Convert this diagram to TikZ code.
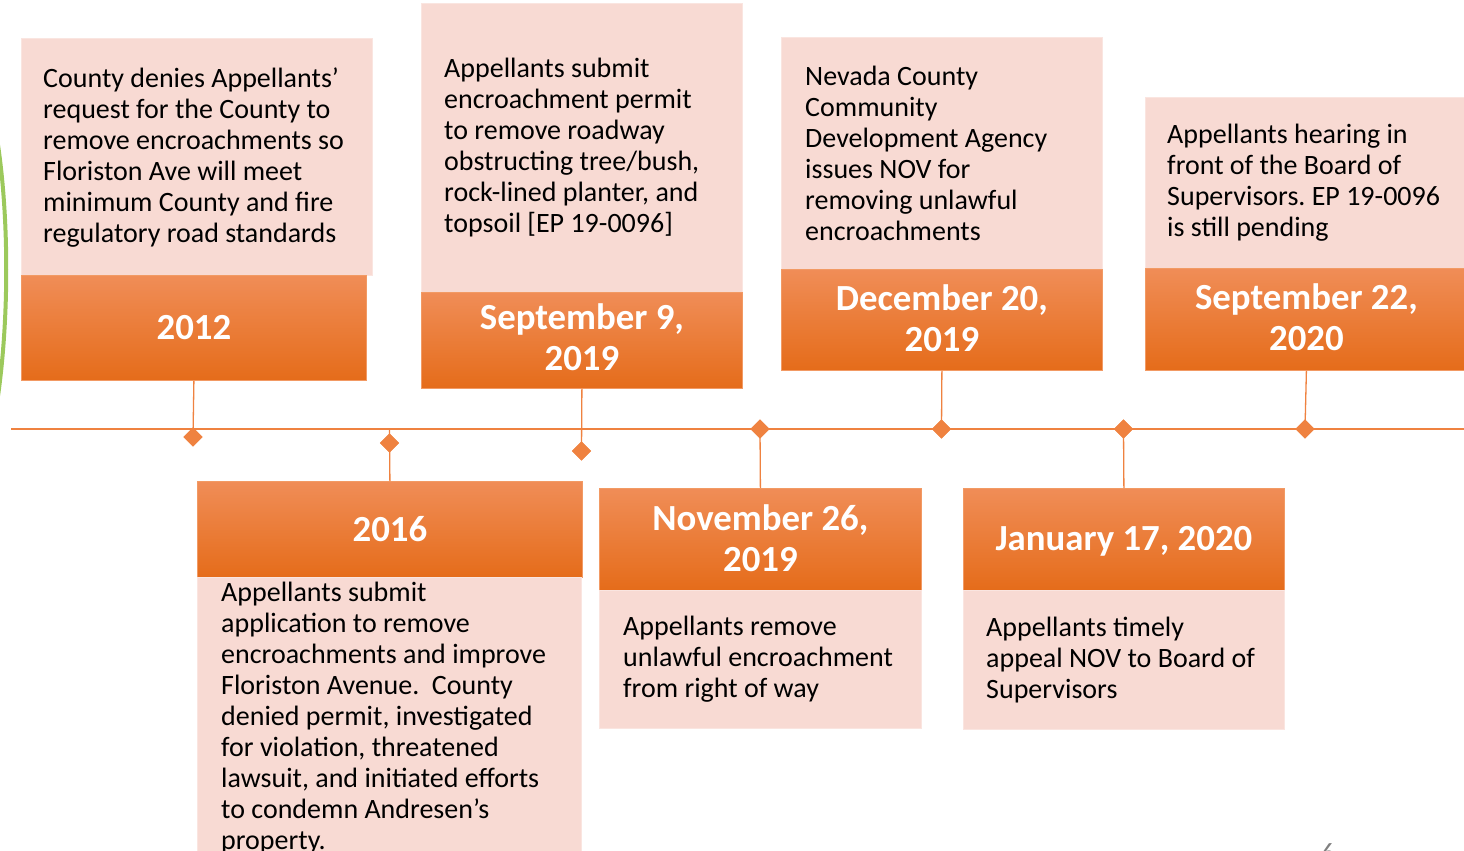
\documentclass[tikz,border=0pt]{standalone}
\usepackage{fontspec}
\setmainfont{Carlito}
\frenchspacing
\usetikzlibrary{shapes.geometric}
\definecolor{notepink}{HTML}{F8DAD3}
\definecolor{datetop}{HTML}{F08D57}
\definecolor{datemid}{HTML}{F47D2B}
\definecolor{datebot}{HTML}{E56C1A}
\definecolor{dateedge}{HTML}{F29A64}
\definecolor{tlorange}{HTML}{EF8240}
\definecolor{arcgreen}{HTML}{9CC95C}
\definecolor{pagegray}{HTML}{808080}
\tikzset{
  notebox/.style={fill=notepink, draw=notepink!70!white, line width=0.6pt,
    anchor=north west, inner sep=0pt},
  notetext/.style={inner sep=0pt, align=left,
    font=\fontsize{28}{31}\selectfont, text=black},
  datebox/.style={shading=axis, top color=datetop, middle color=datemid,
    bottom color=datebot, draw=dateedge, line width=0.8pt,
    anchor=north west, inner sep=0pt},
  datetext/.style={inner sep=0pt, align=center,
    font=\fontsize{36.8}{41}\selectfont\bfseries, text=white},
  knot/.style={diamond, fill=tlorange, inner sep=0pt, minimum size=19pt},
  stem/.style={draw=tlorange, line width=1.3pt},
  axisline/.style={draw=tlorange, line width=1.3pt},
}
\begin{document}
\begin{tikzpicture}[x=1pt, y=-1pt]
\useasboundingbox (0,0) rectangle (1464,851);
\begin{scope}
\clip (0,0) rectangle (1464,851);

% green outline arc on the far left
\draw[arcgreen, line width=4pt] (-2,145) .. controls (9,220) and (9,318) .. (-2,396);

% main time axis
\coordinate (axisL) at (11,429);
\coordinate (axisR) at (1464,429);
\draw[axisline] (axisL) -- (axisR);

% ---- events above the axis ----
\node[notebox, minimum width=351pt, minimum height=237pt] (p2012) at (21,38) {};
\node[notetext, anchor=west] (n2012) at ([xshift=22pt,yshift=-1pt]p2012.west)
  {County denies Appellants’\\ request for the County to\\ remove encroachments so\\ Floriston Ave will meet\\ minimum County and fire\\ regulatory road standards};
\node[datebox, minimum width=345pt, minimum height=105pt] (d2012) at (21,275) {};
\node[datetext] (t2012) at (d2012.center) {2012};

\node[notebox, minimum width=321pt, minimum height=289pt] (p0919) at (421,3) {};
\node[notetext, anchor=west] (n0919) at ([xshift=23pt]p0919.west)
  {Appellants submit\\ encroachment permit\\ to remove roadway\\ obstructing tree/bush,\\ rock-lined planter, and\\ topsoil [EP 19-0096]};
\node[datebox, minimum width=321pt, minimum height=96pt] (d0919) at (421,292) {};
\node[datetext] (t0919) at ([yshift=3pt]d0919.center) {September 9,\\ 2019};

\node[notebox, minimum width=321pt, minimum height=232pt] (p1220) at (781,37) {};
\node[notetext, anchor=west] (n1220) at ([xshift=24pt]p1220.west)
  {Nevada County\\ Community\\ Development Agency\\ issues NOV for\\ removing unlawful\\ encroachments};
\node[datebox, minimum width=321pt, minimum height=101pt] (d1220) at (781,269) {};
\node[datetext] (t1220) at ([yshift=2pt]d1220.center) {December 20,\\ 2019};

\node[notebox, minimum width=322pt, minimum height=171pt] (p0922) at (1145,97) {};
\node[notetext, anchor=west] (n0922) at ([xshift=22pt]p0922.west)
  {Appellants hearing in\\ front of the Board of\\ Supervisors. EP 19-0096\\ is still pending};
\node[datebox, minimum width=322pt, minimum height=102pt] (d0922) at (1145,268) {};
\node[datetext] (t0922) at ([yshift=2pt]d0922.center) {September 22,\\ 2020};

% ---- events below the axis ----
\node[datebox, minimum width=385pt, minimum height=96pt] (d2016) at (197,481) {};
\node[datetext] (t2016) at (d2016.center) {2016};
\node[notebox, minimum width=384pt, minimum height=290pt] (p2016) at (197,577) {};
\node[notetext, anchor=north west] (n2016) at ([xshift=24pt,yshift=-5pt]p2016.north west)
  {Appellants submit\\ application to remove\\ encroachments and improve\\ Floriston Avenue.\ \ County\\ denied permit, investigated\\ for violation, threatened\\ lawsuit, and initiated efforts\\ to condemn Andresen’s\\ property.};

\node[datebox, minimum width=322pt, minimum height=102pt] (d1126) at (599,488) {};
\node[datetext] (t1126) at ([yshift=1pt]d1126.center) {November 26,\\ 2019};
\node[notebox, minimum width=322pt, minimum height=138pt] (p1126) at (599,590) {};
\node[notetext, anchor=west] (n1126) at ([xshift=24pt]p1126.west)
  {Appellants remove\\ unlawful encroachment\\ from right of way};

\node[datebox, minimum width=321pt, minimum height=102pt] (d0117) at (963,488) {};
\node[datetext] (t0117) at ([yshift=-2pt]d0117.center) {January 17, 2020};
\node[notebox, minimum width=321pt, minimum height=139pt] (p0117) at (963,590) {};
\node[notetext, anchor=west] (n0117) at ([xshift=23pt]p0117.west)
  {Appellants timely\\ appeal NOV to Board of\\ Supervisors};

% ---- markers on the axis ----
\node[knot] (k2012) at (193,437) {};
\node[knot] (k2016) at (389.5,443) {};
\node[knot] (k0919) at (581.5,451) {};
\node[knot] (k1126) at (760,429) {};
\node[knot] (k1220) at (941.5,429) {};
\node[knot] (k0117) at (1123.5,429) {};
\node[knot] (k0922) at (1305,429) {};
\coordinate (s2016) at (389.5,429);

% stems joining boxes and markers
\draw[stem] (d2012.south) -- (k2012.center);
\draw[stem] (s2016) -- (d2016.north);
\draw[stem] (d0919.south) -- (k0919.center);
\draw[stem] (k1126.center) -- (d1126.north);
\draw[stem] (d1220.south) -- (k1220.center);
\draw[stem] (k0117.center) -- (d0117.north);
\draw[stem] (d0922.south) -- (k0922.center);
% redraw the markers over the stems
\foreach \k in {k2012,k2016,k0919,k1126,k1220,k0117,k0922}
  \fill[tlorange] (\k.north) -- (\k.east) -- (\k.south) -- (\k.west) -- cycle;

% slide number
\node[anchor=north, inner sep=0pt, text=pagegray, font=\fontsize{28}{30}\selectfont] (pageno) at (1328,843) {6};
\end{scope}
\end{tikzpicture}
\end{document}
